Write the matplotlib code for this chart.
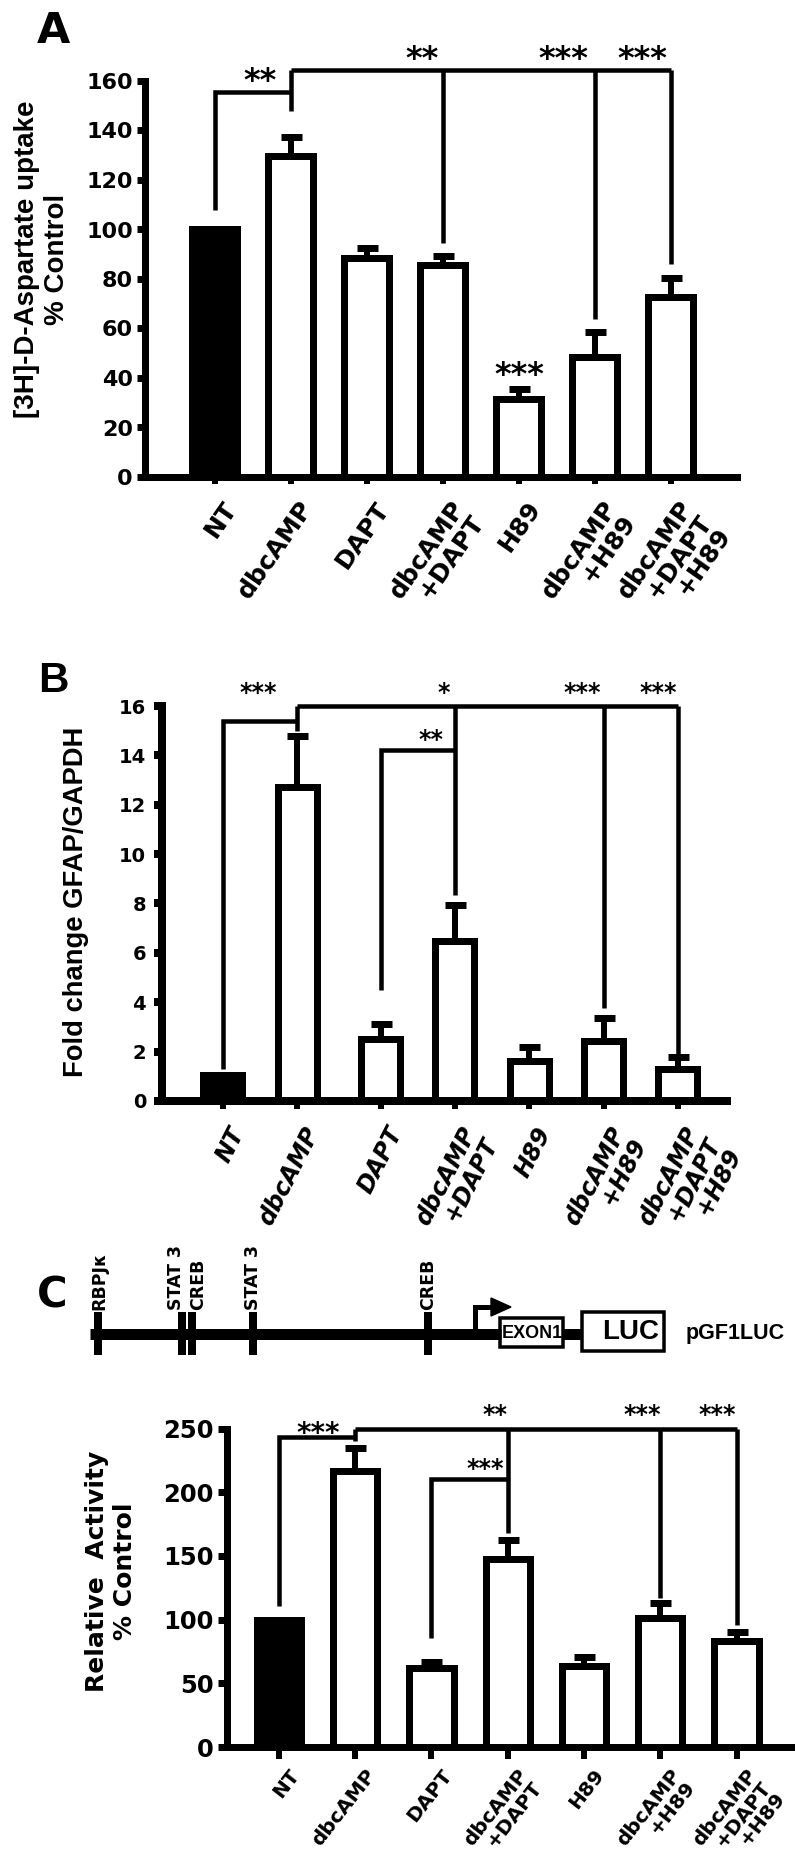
import numpy as np
import matplotlib
matplotlib.use("Agg")
import matplotlib.pyplot as plt
from matplotlib import font_manager
from matplotlib.transforms import ScaledTranslation, offset_copy
from matplotlib.patches import Rectangle, Polygon

plt.rcParams['font.family'] = ['DejaVu Sans']
plt.rcParams['font.weight'] = 'bold'

names = {f.name for f in font_manager.fontManager.ttflist}
if 'Liberation Sans Narrow' in names:
    NARROW, NS = 'Liberation Sans Narrow', 1.0
else:
    NARROW, NS = 'Liberation Sans', 0.82

groups = ['NT', 'dbcAMP', 'DAPT', 'dbcAMP\n+DAPT', 'H89', 'dbcAMP\n+H89', 'dbcAMP\n+DAPT\n+H89']

# A  [3H]-D-aspartate uptake (% control)
uptake = [100, 129.5, 88.3, 85.6, 31.6, 48.6, 72.6]
uptake_err = [0, 8, 4.3, 3.5, 4, 10, 8]

# B  GFAP/GAPDH fold change
gfap = [1.05, 12.7, 2.5, 6.5, 1.6, 2.45, 1.3]
gfap_err = [0, 2.1, 0.6, 1.45, 0.6, 0.9, 0.48]

# C  pGF1LUC relative activity (% control)
luc = [100, 216.5, 62, 147.5, 63.5, 101.5, 83.5]
luc_err = [0, 18, 4.7, 15, 7, 11.5, 7]

W, H = 795, 1869
fig = plt.figure(figsize=(W / 100, H / 100), dpi=100)


def pt(px):
    return px * 0.72


def box(l, t, r, b):
    return [l / W, 1 - b / H, (r - l) / W, (b - t) / H]


# overlay in pixel coords for letters, y labels and the promoter schematic
ov = fig.add_axes([0, 0, 1, 1])
ov.set_xlim(0, W)
ov.set_ylim(H, 0)
ov.axis('off')


def panel(rect, xlim, ymax, step, pos, vals, errs, width, spine_w, tlen, tpad,
          tsize, xlen, xpad, xdx, rot, xsize, xstyle='normal'):
    ax = fig.add_axes(box(*rect))
    ax.patch.set_visible(False)
    colors = ['black'] + ['white'] * (len(vals) - 1)
    ax.bar(pos, vals, width=width, color=colors, edgecolor='black',
           linewidth=pt(7), zorder=2)
    ax.errorbar(pos[1:], vals[1:], yerr=[np.zeros(len(vals) - 1), errs[1:]],
                fmt='none', ecolor='black', elinewidth=pt(6), capsize=pt(10.5),
                capthick=pt(7), zorder=3)
    ax.set_xlim(*xlim)
    ax.set_ylim(0, ymax)
    for s in ['top', 'right']:
        ax.spines[s].set_visible(False)
    for s in ['left', 'bottom']:
        ax.spines[s].set_linewidth(spine_w)
    ax.spines['left'].set_bounds(0, ymax)
    ax.set_yticks(np.arange(0, ymax + 0.1, step))
    ax.tick_params(axis='y', length=tlen, width=spine_w, pad=tpad, labelsize=tsize)
    ax.tick_params(axis='x', length=xlen, width=pt(6), pad=xpad)
    ax.set_xticks(pos)
    ax.set_xticklabels(groups, rotation=rot, ha='right', va='top',
                       rotation_mode='anchor', ma='right', linespacing=0.95,
                       fontsize=xsize, fontstyle=xstyle)
    for t in ax.get_xticklabels():
        t.set_transform(t.get_transform() + ScaledTranslation(xdx / 100, 0, fig.dpi_scale_trans))
    return ax


def lines(ax, segs, lw):
    for seg in segs:
        xs = [p[0] for p in seg]
        ys = [p[1] for p in seg]
        ax.plot(xs, ys, color='black', lw=lw, solid_capstyle='butt',
                solid_joinstyle='miter', clip_on=False, zorder=4)


def stars(ax, items):
    for s, x, y, size in items:
        tr = offset_copy(ax.transData, fig=fig, y=-0.57 * size, units='points')
        ax.text(x, y, s, transform=tr, ha='center', va='baseline',
                fontsize=size, fontweight='bold', clip_on=False)


# ---------------- A ----------------
pA = np.arange(7.0)
axA = panel((145, 81, 737, 477), (-0.92, 6.87), 160, 20, pA, uptake, uptake_err,
            0.59, pt(7), pt(8), pt(4), 16, pt(7), pt(13), 7, 55, 18)
lines(axA, [[(pA[0], 108), (pA[0], 155.5), (pA[1], 155.5)],
            [(pA[1], 148), (pA[1], 164.5)],
            [(pA[1], 164.5), (pA[6], 164.5)],
            [(pA[3], 164.5), (pA[3], 94.5)],
            [(pA[5], 164.5), (pA[5], 64)],
            [(pA[6], 164.5), (pA[6], 86)]], pt(4.5))
stars(axA, [('**', 0.59, 163.6, 23), ('**', pA[3] - 0.28, 172.5, 23),
            ('***', pA[5] - 0.41, 172.5, 23), ('***', pA[6] - 0.37, 172.5, 23),
            ('***', pA[4], 45, 23)])

# ---------------- B ----------------
pB = np.arange(7.0)
pB[2:] += 0.12
axB = panel((162, 706, 727, 1101), (-0.82, 6.78), 16, 2, pB, gfap, gfap_err,
            0.525, pt(8), pt(8), pt(8), 14, pt(8), pt(14), 5, 63, 17, 'italic')
lines(axB, [[(pB[0], 1.3), (pB[0], 15.4), (pB[1], 15.4)],
            [(pB[1], 15.0), (pB[1], 16.0)],
            [(pB[1], 16.0), (pB[6], 16.0)],
            [(pB[3], 16.0), (pB[3], 8.35)],
            [(pB[5], 16.0), (pB[5], 3.75)],
            [(pB[6], 16.0), (pB[6], 1.85)],
            [(pB[2], 4.5), (pB[2], 14.2), (pB[3], 14.2)]], pt(4.5))
stars(axB, [('***', 0.47, 16.8, 17), ('*', pB[3] - 0.15, 16.8, 17),
            ('**', pB[3] - 0.32, 14.9, 17), ('***', pB[5] - 0.29, 16.8, 17),
            ('***', pB[6] - 0.27, 16.8, 17)])

# ---------------- C ----------------
pC = np.arange(7.0)
axC = panel((227, 1428.5, 793, 1747), (-0.68, 6.74), 250, 50, pC, luc, luc_err,
            0.58, pt(7), pt(9), pt(4.3), 17.5, pt(12), pt(7), 9, 52, 14.5)
lines(axC, [[(pC[0], 111), (pC[0], 243), (pC[1], 243)],
            [(pC[1], 240), (pC[1], 250)],
            [(pC[1], 250), (pC[6], 250)],
            [(pC[3], 250), (pC[3], 168)],
            [(pC[5], 250), (pC[5], 117)],
            [(pC[6], 250), (pC[6], 96)],
            [(pC[2], 85.5), (pC[2], 210), (pC[3], 210)]], pt(4.5))
stars(axC, [('***', 0.52, 252, 20), ('**', pC[3] - 0.17, 266, 17),
            ('***', pC[5] - 0.24, 266, 17), ('***', pC[6] - 0.25, 266, 17),
            ('***', pC[3] - 0.30, 223, 17)])

# y labels
ov.text(42, 259, '[3H]-D-Aspartate uptake\n% Control', rotation=90, ha='center',
        va='center', ma='center', fontsize=20, family='Liberation Sans')
ov.text(76, 902, 'Fold change GFAP/GAPDH', rotation=90, ha='center', va='center',
        fontsize=24 * NS, family=NARROW)
ov.text(111, 1571, 'Relative  Activity\n% Control', rotation=90, ha='center',
        va='center', ma='center', fontsize=18)

# panel letters
ov.text(53, 43, 'A', ha='center', va='baseline', fontsize=31)
ov.text(53, 692, 'B', ha='center', va='baseline', fontsize=37 * NS, family=NARROW)
ov.text(52, 1307, 'C', ha='center', va='baseline', fontsize=30)

# promoter schematic
k = dict(color='black', solid_capstyle='butt')
ov.plot([90, 501], [1334, 1334], lw=pt(11), **k)
ov.plot([563, 582], [1334, 1334], lw=pt(11), **k)
for x in [98, 182, 192, 253, 428]:
    ov.plot([x, x], [1312, 1355], lw=pt(8), **k)
for x, s in [(99, 'RBPJκ'), (176, 'STAT 3'), (198, 'CREB'), (253, 'STAT 3'), (428, 'CREB')]:
    ov.text(x, 1310, s, rotation=90, ha='center', va='bottom', fontsize=12.5)
ov.plot([475, 475, 494], [1336, 1307, 1307], lw=pt(5), solid_joinstyle='miter', **k)
ov.add_patch(Polygon([(491, 1298), (511, 1307), (491, 1316)], closed=True, color='black'))
ov.add_patch(Rectangle((500, 1318), 63, 29, facecolor='white', edgecolor='black', lw=pt(3.5)))
ov.add_patch(Rectangle((582, 1312), 82, 39, facecolor='white', edgecolor='black', lw=pt(3.5)))
ov.text(532, 1333, 'EXON1', ha='center', va='center', fontsize=16 * NS if NS == 1.0 else 13,
        family=NARROW)
ov.text(631, 1332, 'LUC', ha='center', va='center', fontsize=21 * NS if NS == 1.0 else 20,
        family=NARROW)
ov.text(735, 1333, 'pGF1LUC', ha='center', va='center', fontsize=17 * NS if NS == 1.0 else 15.5,
        family=NARROW)

fig.savefig('out.png', dpi=100)
